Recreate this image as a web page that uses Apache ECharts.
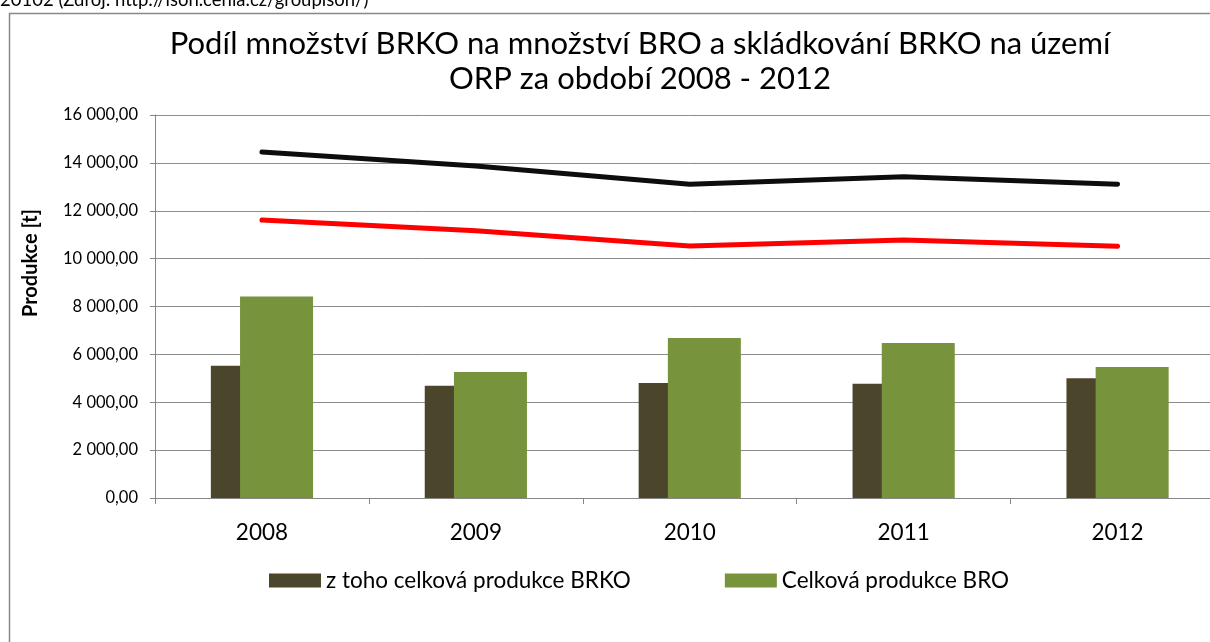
<!DOCTYPE html>
<html lang="cs">
<head>
<meta charset="utf-8">
<title>Podíl množství BRKO na množství BRO</title>
<script src="https://cdn.jsdelivr.net/npm/echarts@6/dist/echarts.min.js"></script>
<style>
  html, body { margin: 0; padding: 0; background: #fff; overflow: hidden; }
  #chart { width: 1230px; height: 642px; }
</style>
</head>
<body>
<div id="chart"></div>
<script>
// Roky sledovaného období
const years = ['2008', '2009', '2010', '2011', '2012'];

// Sloupce (t)
const brkoTotal = [5528, 4694, 4806, 4778, 5000];   // z toho celková produkce BRKO
const broTotal  = [8417, 5264, 6681, 6472, 5472];   // Celková produkce BRO

// Čáry (t)
const lineBlack = [14458, 13870, 13111, 13417, 13111];
const lineRed   = [11611, 11167, 10528, 10778, 10514];

// Rozsah osy Y
const yMin = 0, yMax = 16000, yStep = 2000;

const FONT = 'Lato, "Open Sans", sans-serif';

function czNumber(v) {
  const parts = v.toFixed(2).split('.');
  const intPart = parts[0].replace(/\B(?=(\d{3})+(?!\d))/g, ' ');
  return intPart + ',' + parts[1];
}

const chart = echarts.init(document.getElementById('chart'), null, { renderer: 'canvas' });

chart.setOption({
  animation: false,
  backgroundColor: '#ffffff',
  textStyle: { fontFamily: FONT, color: '#000' },
  graphic: [
    {
      type: 'text', left: 0, top: -9, z: 10,
      style: { text: '20102 (Zdroj: http://isoh.cenia.cz/groupisoh/)', font: '18.5px ' + FONT, fill: '#000' }
    },
    {
      type: 'rect', z: 0,
      shape: { x: 9.5, y: 13.5, width: 1300, height: 700 },
      style: { fill: 'none', stroke: '#888888', lineWidth: 1.5 }
    },
    {
      type: 'text', z: 10,
      x: 31, y: 263, rotation: Math.PI / 2,
      style: { text: 'Produkce [t]', font: 'bold 20px ' + FONT, fill: '#000', align: 'center', verticalAlign: 'middle' }
    }
  ],
  title: {
    text: 'Podíl množství BRKO na množství BRO a skládkování BRKO na území\nORP za období 2008 - 2012',
    left: 640, top: 26, textAlign: 'center', padding: 0,
    textStyle: { fontFamily: FONT, fontSize: 31, fontWeight: 'normal', color: '#000', lineHeight: 35 }
  },
  legend: {
    data: ['z toho celková produkce BRKO', 'Celková produkce BRO'],
    left: 269, top: 569, padding: 0,
    itemWidth: 52, itemHeight: 14, itemGap: 94,
    icon: 'rect',
    textStyle: { fontFamily: FONT, fontSize: 22.5, color: '#000' }
  },
  grid: { left: 155, top: 115, right: 5.5, bottom: 144 },
  xAxis: {
    type: 'category',
    data: years,
    boundaryGap: true,
    axisLine: { lineStyle: { color: '#868686', width: 1 } },
    axisTick: { show: true, length: 6, lineStyle: { color: '#868686' } },
    axisLabel: { fontFamily: FONT, fontSize: 22.5, color: '#000', margin: 23 }
  },
  yAxis: {
    type: 'value',
    min: yMin, max: yMax, interval: yStep,
    axisLine: { show: true, lineStyle: { color: '#868686', width: 1 } },
    axisTick: { show: true, length: 5, lineStyle: { color: '#868686' } },
    splitLine: { lineStyle: { color: '#8c8c8c', width: 1 } },
    axisLabel: { fontFamily: FONT, fontSize: 16.5, color: '#000', margin: 17, formatter: czNumber }
  },
  series: [
    {
      name: 'z toho celková produkce BRKO',
      type: 'bar',
      data: brkoTotal,
      barWidth: 73,
      barGap: '-60%',
      itemStyle: { color: '#4b452c' },
      z: 2
    },
    {
      name: 'Celková produkce BRO',
      type: 'bar',
      data: broTotal,
      barWidth: 73,
      barGap: '-60%',
      itemStyle: { color: '#77933c' },
      z: 3
    },
    {
      name: 'Řada 3',
      type: 'line',
      data: lineBlack,
      symbol: 'none',
      lineStyle: { color: '#0d0d0d', width: 5, cap: 'round', join: 'round' },
      z: 5
    },
    {
      name: 'Řada 4',
      type: 'line',
      data: lineRed,
      symbol: 'none',
      lineStyle: { color: '#ff0000', width: 5, cap: 'round', join: 'round' },
      z: 5
    }
  ]
});
</script>
</body>
</html>
